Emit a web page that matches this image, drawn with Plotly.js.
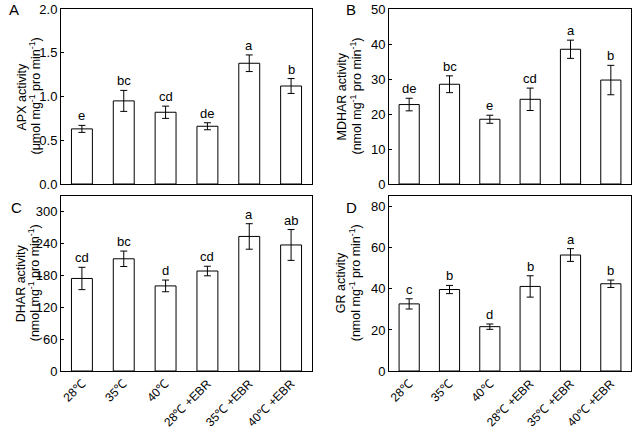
<!DOCTYPE html>
<html><head><meta charset="utf-8">
<script src="https://cdn.plot.ly/plotly-3.0.1.min.js"></script>
<style>html,body{margin:0;padding:0;background:#fff}#chart{width:642px;height:428px}</style>
</head><body><div id="chart"></div>
<script>
const categories = ["28℃","35℃","40℃","28℃ +EBR","35℃ +EBR","40℃ +EBR"];

const apxValues = [0.63, 0.95, 0.82, 0.66, 1.38, 1.12];
const apxErrors = [0.04, 0.12, 0.07, 0.04, 0.095, 0.085];
const apxLetters = ["e","bc","cd","de","a","b"];

const mdharValues = [22.7, 28.5, 18.5, 24.2, 38.5, 29.7];
const mdharErrors = [1.8, 2.4, 1.15, 3.2, 2.6, 4.2];
const mdharLetters = ["de","bc","e","cd","a","b"];

const dharValues = [174, 211, 160, 188, 253, 237];
const dharErrors = [21, 14.5, 11, 9, 24, 29];
const dharLetters = ["cd","bc","d","cd","a","ab"];

const grValues = [32.7, 39.7, 21.6, 41.2, 56.5, 42.5];
const grErrors = [2.5, 2.0, 1.3, 5.2, 3.1, 1.8];
const grLetters = ["c","b","d","b","a","b"];

const panelLetters = ["A","B","C","D"];
const yTitles = ["APX activity","MDHAR activity","DHAR activity","GR activity"];
const yUnits = ["(μmol mg<sup>-1</sup> pro min<sup>-1</sup>)","(nmol mg<sup>-1</sup> pro min<sup>-1</sup>)","(nmol mg<sup>-1</sup> pro min<sup>-1</sup>)","(nmol mg<sup>-1</sup> pro min<sup>-1</sup>)"];

const W = 642, H = 428;
const px = v => v / W, py = v => 1 - v / H;
const FONT = "Liberation Sans, Arial, sans-serif";

const panels = [
  {vals: apxValues, errs: apxErrors, lets: apxLetters, x:[61,312], y:[9,184], range:[0,2], dtick:0.5, fmt:".1f", lx:14, ly:10, tx:[21,34]},
  {vals: mdharValues, errs: mdharErrors, lets: mdharLetters, x:[389,631], y:[9,184], range:[0,50], dtick:10, fmt:"d", lx:351, ly:10, tx:[341,355]},
  {vals: dharValues, errs: dharErrors, lets: dharLetters, x:[61,312], y:[195.5,371], range:[0,330], dtick:60, fmt:"d", lx:16, ly:207, tx:[21,34]},
  {vals: grValues, errs: grErrors, lets: grLetters, x:[389,631], y:[195.5,371], range:[0,85.5], dtick:20, fmt:"d", lx:351, ly:207, tx:[341,355]}
];

const data = [];
const layout = {
  width: W, height: H, margin: {l:0,r:0,t:0,b:0},
  paper_bgcolor: "#fff", plot_bgcolor: "#fff", showlegend: false,
  font: {family: FONT, size: 12, color: "#000"},
  annotations: []
};

panels.forEach((p, i) => {
  const n = i === 0 ? "" : String(i + 1);
  data.push({
    type: "bar", x: categories, y: p.vals,
    xaxis: "x" + n, yaxis: "y" + n, width: 0.5,
    marker: {color: "#fff", line: {color: "#000", width: 1}},
    error_y: {type: "data", array: p.errs, visible: true, color: "#000", thickness: 1, width: 3.5}
  });
  layout["xaxis" + n] = {
    domain: [px(p.x[0]), px(p.x[1])], anchor: "y" + n,
    type: "category", categoryarray: categories, range: [-0.5, 5.5],
    showline: true, mirror: true, linecolor: "#000", linewidth: 1,
    ticks: "", showgrid: false, zeroline: false,
    showticklabels: i >= 2, tickangle: -45,
    tickfont: {family: FONT, size: 12, color: "#000"}
  };
  layout["yaxis" + n] = {
    domain: [py(p.y[1]), py(p.y[0])], anchor: "x" + n,
    range: p.range, dtick: p.dtick, tick0: 0, tickformat: p.fmt,
    showline: true, mirror: true, linecolor: "#000", linewidth: 1,
    ticks: "inside", ticklen: 3, tickcolor: "#000",
    showgrid: false, zeroline: false,
    tickfont: {family: FONT, size: 13, color: "#000"}
  };
  layout.annotations.push({
    xref: "paper", yref: "paper", x: px(p.lx), y: py(p.ly),
    text: panelLetters[i], showarrow: false, xanchor: "center", yanchor: "middle",
    font: {family: FONT, size: 15, color: "#000"}
  });
  const cy = py((p.y[0] + p.y[1]) / 2);
  layout.annotations.push({
    xref: "paper", yref: "paper", x: px(p.tx[0]), y: cy,
    text: yTitles[i], showarrow: false, textangle: -90,
    xanchor: "center", yanchor: "middle",
    font: {family: FONT, size: 12.5, color: "#000"}
  });
  layout.annotations.push({
    xref: "paper", yref: "paper", x: px(p.tx[1]), y: cy,
    text: yUnits[i], showarrow: false, textangle: -90,
    xanchor: "center", yanchor: "middle",
    font: {family: FONT, size: 12.5, color: "#000"}
  });
  categories.forEach((c, k) => {
    layout.annotations.push({
      xref: "x" + n, yref: "y" + n, x: c, y: p.vals[k] + p.errs[k],
      text: p.lets[k], showarrow: false, xanchor: "center", yanchor: "bottom", yshift: 0,
      font: {family: FONT, size: 13, color: "#000"}
    });
  });
});

Plotly.newPlot("chart", data, layout, {displayModeBar: false, staticPlot: true});
</script></body></html>
